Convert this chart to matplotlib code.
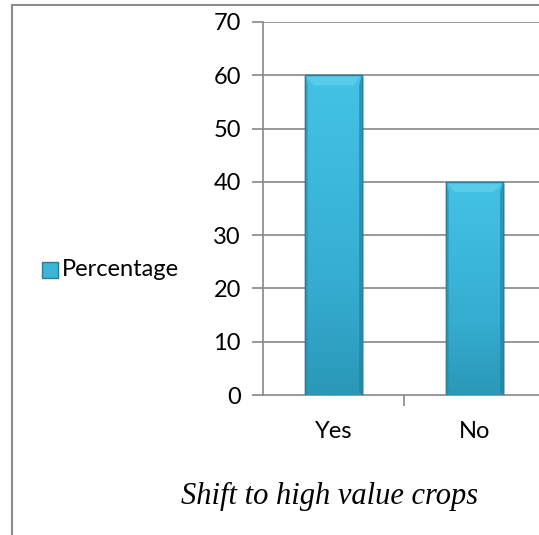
import numpy as np
import matplotlib.pyplot as plt
from matplotlib.colors import LinearSegmentedColormap
from matplotlib.patches import Polygon, Rectangle

categories = ["Yes", "No"]
percentage = [60, 40]
series_name = "Percentage"
title = "Shift to high value crops"
yticks = [0, 10, 20, 30, 40, 50, 60, 70]

W, H = 539, 535
fig = plt.figure(figsize=(W / 100, H / 100), dpi=100)

# outer chart frame (left and top edges visible)
fig.add_artist(plt.Line2D([12 / W, 12 / W], [0, 1 - 5 / H], color="#8c8c8c", lw=1.5))
fig.add_artist(plt.Line2D([12 / W, 1], [1 - 5 / H, 1 - 5 / H], color="#8c8c8c", lw=1.5))

# plot area runs a bit past the right edge of the figure
left, right, top, bottom = 263, 545, 22, 395
ax = fig.add_axes([left / W, 1 - bottom / H, (right - left) / W, (bottom - top) / H])
ax.set_xlim(0, 2)
ax.set_ylim(0, 70)

grid_col = "#878787"
for v in yticks[1:]:
    ax.axhline(v, color=grid_col, lw=1.2, zorder=1)

for s in ["top", "right"]:
    ax.spines[s].set_visible(False)
for s in ["left", "bottom"]:
    ax.spines[s].set_color(grid_col)
    ax.spines[s].set_linewidth(1.2)

font = "Lato"
fs = 17
ax.set_yticks(yticks)
ax.set_yticklabels([str(v) for v in yticks], fontsize=fs, family=font)
ax.set_xticks([1])
ax.set_xticks([0.5, 1.5], minor=True)
ax.set_xticklabels([""])
ax.set_xticklabels(categories, minor=True, fontsize=fs, family=font)
ax.tick_params(axis="y", length=8, width=1.2, color=grid_col, pad=8)
ax.tick_params(axis="x", which="major", length=8, width=1.2, color=grid_col)
ax.tick_params(axis="x", which="minor", length=0, pad=19)

cmap = LinearSegmentedColormap.from_list("bar", ["#2a98b8", "#35acd0", "#3cb8dc", "#44c2e5"])
grad = np.linspace(0, 1, 256).reshape(-1, 1)
bw = 0.4
bx = 0.06   # bevel width in x
by = 1.9    # bevel height in y
for i, val in enumerate(percentage):
    x0 = i + 0.5 - bw / 2
    # drop shadow
    ax.add_patch(Rectangle((x0 + 0.014, -0.4), bw, val, color="#000000", alpha=0.12, zorder=2, lw=0))
    body = Rectangle((x0, 0), bw, val, facecolor="#3cb4d8", edgecolor="#2a7f9a", lw=1, zorder=3)
    ax.add_patch(body)
    im = ax.imshow(grad, cmap=cmap, extent=(x0, x0 + bw, 0, val), origin="lower",
                   aspect="auto", zorder=3.5)
    im.set_clip_path(body)
    # bevel faces
    ax.add_patch(Polygon([(x0, val), (x0 + bw, val), (x0 + bw - bx, val - by), (x0 + bx, val - by)],
                         facecolor="#5ccdec", edgecolor="none", alpha=0.9, zorder=4))
    ax.add_patch(Polygon([(x0, 0), (x0 + bx * 0.3, by * 0.3), (x0 + bx * 0.3, val - by), (x0, val)],
                         facecolor="#2a8fae", edgecolor="none", alpha=0.6, zorder=4))
    ax.add_patch(Polygon([(x0 + bw, 0), (x0 + bw - bx * 0.3, by * 0.3), (x0 + bw - bx * 0.3, val - by), (x0 + bw, val)],
                         facecolor="#22809c", edgecolor="none", alpha=0.7, zorder=4))
    ax.add_patch(Rectangle((x0, 0), bw, val, facecolor="none", edgecolor="#2a7f9a", lw=1, zorder=5))
ax.set_aspect("auto")
ax.set_xlim(0, 2)
ax.set_ylim(0, 70)

# legend entry
lx, ly = 42, 262
fig.add_artist(Rectangle((lx / W, 1 - (ly + 16) / H), 16 / W, 16 / H, facecolor="#3cb4d8",
                         edgecolor="#2a7f9a", lw=1, transform=fig.transFigure))
fig.text(62 / W, 1 - 270 / H, series_name, fontsize=fs, family=font, va="center", ha="left")

fig.text(330 / W, 1 - 496 / H, title, fontsize=22, family="Liberation Serif", style="italic",
         ha="center", va="center")

fig.savefig("out.png", dpi=100)
